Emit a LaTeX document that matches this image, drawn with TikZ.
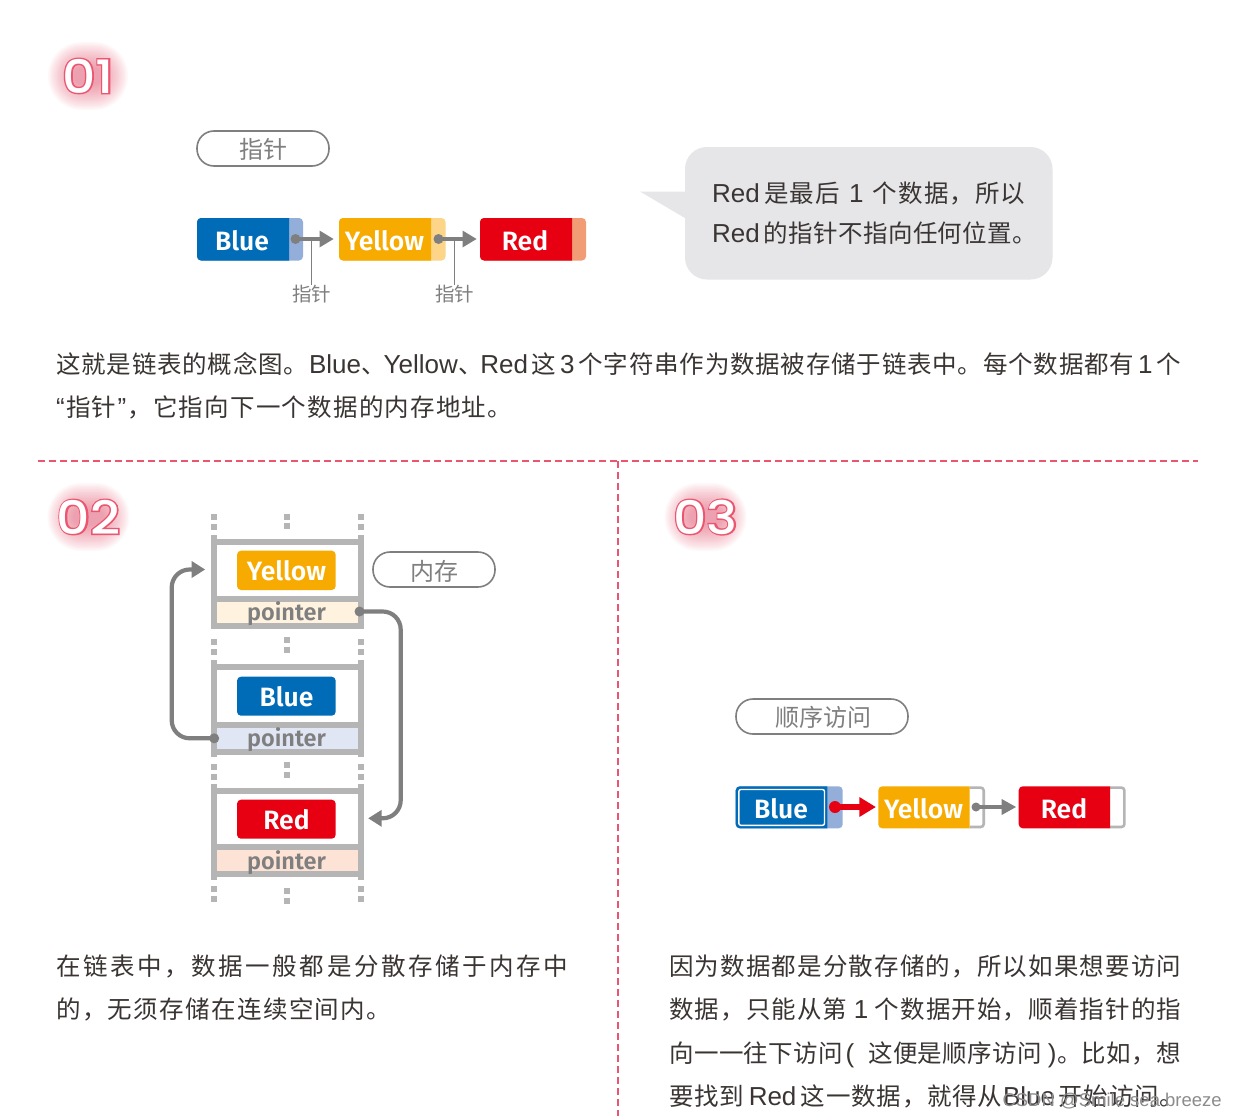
\documentclass[tikz,border=0pt]{standalone}
\usepackage{graphicx}
\usepackage{fontspec}
\usetikzlibrary{arrows.meta}
\setmainfont{Noto Sans CJK SC}
\newfontfamily\latn{Liberation Sans}
\newfontfamily\boxf{Fira Sans}[UprightFont=* SemiBold]
\newfontfamily\numA{Poppins}[UprightFont=* Medium,FakeBold=6]
\newfontfamily\numB{Poppins}[UprightFont=* Medium]
\definecolor{cblue}{HTML}{006CB8}
\definecolor{cblueL}{HTML}{93AED9}
\definecolor{cyel}{HTML}{F7AB00}
\definecolor{cyelL}{HTML}{FCD588}
\definecolor{cred}{HTML}{E60012}
\definecolor{credL}{HTML}{F29C76}
\definecolor{gr}{HTML}{7F7F7F}
\definecolor{grL}{HTML}{B5B5B6}
\definecolor{pk}{HTML}{EA5670}
\definecolor{ink}{HTML}{3A3533}
\definecolor{bub}{HTML}{E6E6E9}
\definecolor{pY}{HTML}{FFF3E0}
\definecolor{pB}{HTML}{E0E6F4}
\definecolor{pR}{HTML}{FDE3D6}
\newcommand{\LL}[1]{{\latn\fontsize{26}{26}\selectfont #1}}
\newcommand{\NN}[2][21pt]{\makebox[#1]{\LL{#2}}}
\def\sprd#1{\ifx\sprstop#1\else #1\hskip 0pt plus 1fil\expandafter\sprd\fi}
\newcommand{\jl}[2]{\makebox[#1][s]{\sprd#2\sprstop\unskip}}
\tikzset{
 x=1pt,y=-1pt,
 pill/.style={draw=gr,line width=1.6pt,fill=white,rounded corners=17pt},
 lab/.style={inner sep=0pt,anchor=base,text=white,font=\boxf\fontsize{26.5}{26.5}\selectfont},
 ptr/.style={inner sep=0pt,anchor=base,text=gr,font=\boxf\fontsize{23.5}{23.5}\selectfont},
 gray text/.style={inner sep=0pt,text=gr,font=\fontsize{24}{24}\selectfont},
 small gray/.style={inner sep=0pt,text=gr,font=\fontsize{19.5}{19.5}\selectfont},
 body/.style={inner sep=0pt,anchor=base west,text=ink,font=\fontsize{24.5}{24.5}\selectfont},
 rail/.style={fill=grL,draw=none},
 sep/.style={draw=pk,line width=1.6pt,dash pattern=on 7pt off 4pt},
 conn/.style={draw=gr,line width=4pt},
 dot/.style={circle,fill=gr,inner sep=0pt,minimum size=10pt},
}
% number with glow: centre x,y, half width, text
\newcommand{\numlabel}[4]{%
 \foreach \m in {14,12.5,...,-12} {
  \fill[pk,opacity=.04,rounded corners={(\m+19.9)*1pt}] (#1-#3-\m,#2-20-\m) rectangle (#1+#3+\m,#2+20+\m);
 }
 \node[inner sep=0pt,text=pk] at (#1,#2) {\scalebox{1.13}[1]{\fontsize{46}{46}\numA #4}};
 \node[inner sep=0pt,text=white] at (#1,#2) {\scalebox{1.13}[1]{\fontsize{46}{46}\numB #4}};
}
\newcommand{\mainpart}[6]{% x0,y0,split,x2,y1,main
 \begin{scope}
  \clip (#1-1,#2-1) rectangle (#3,#5+1);
  \fill[#6,rounded corners=4pt] (#1,#2) rectangle (#4,#5);
 \end{scope}
}
% linked item: x0,y0,split,x2,y1,main,light
\newcommand{\linkbox}[7]{%
 \fill[#7,rounded corners=4pt] (#1,#2) rectangle (#4,#5);
 \mainpart{#1}{#2}{#3}{#4}{#5}{#6}
}
\newcommand{\openbox}[6]{% x0,y0,split,x2,y1,main : gray outlined white end
 \draw[grL,line width=2.6pt,rounded corners=3pt] (#3,#2+1.3) -- (#4-1.3,#2+1.3) -- (#4-1.3,#5-1.3) -- (#3,#5-1.3);
 \mainpart{#1}{#2}{#3}{#4}{#5}{#6}
}
\newcommand{\cell}[6]{%
 \fill[#6] (217,#3+5.5) rectangle (358,#4);
 \fill[rail] (211.2,#1) rectangle (217,#5);
 \fill[rail] (358,#1) rectangle (363.8,#5);
 \fill[rail] (217,#2) rectangle (358,#2+5.5);
 \fill[rail] (217,#3) rectangle (358,#3+5.5);
 \fill[rail] (217,#4) rectangle (358,#4+5.5);
}
\newcommand{\vdotsq}[2]{%
 \fill[grL] (211.2,#1) rectangle (217,#1+6);
 \fill[grL] (211.2,#1+10) rectangle (217,#1+16);
 \fill[grL] (358,#1) rectangle (363.8,#1+6);
 \fill[grL] (358,#1+10) rectangle (363.8,#1+16);
 \fill[grL] (284,#2) rectangle (290,#2+6);
 \fill[grL] (284,#2+9.5) rectangle (290,#2+15.5);
}
\begin{document}
\begin{tikzpicture}
\useasboundingbox (0,0) rectangle (1236,1116);
\fill[white] (0,0) rectangle (1236,1116);

% ---------- 01
\numlabel{88}{76}{26}{01}
\draw[pill] (197,131) rectangle (329,166);
\node[gray text] (p1) at (263,149.5) {指针};

\linkbox{197}{218}{289}{303}{260.5}{cblue}{cblueL}
\node[lab] (b1) at (242,250.5) {Blue};
\linkbox{339}{218}{431}{445.5}{260.5}{cyel}{cyelL}
\node[lab] (y1) at (384.5,250.5) {Yellow};
\linkbox{480}{218}{572}{586}{260.5}{cred}{credL}
\node[lab] (r1) at (525,250.5) {Red};

\node[dot] (d1) at (295.5,239) {};
\coordinate (t1) at (333.5,239);
\draw[conn] (d1.center) -- (320,239);
\fill[gr] (t1) -- (319.5,230.5) -- (319.5,247.5) -- cycle;
\node[dot] (d2) at (438.5,239) {};
\coordinate (t2) at (476.5,239);
\draw[conn] (d2.center) -- (463,239);
\fill[gr] (t2) -- (462.5,230.5) -- (462.5,247.5) -- cycle;

\node[small gray] (c1) at (311.5,294) {指针};
\node[small gray] (c2) at (454.5,294) {指针};
\draw[gr,line width=.9pt] (311.5,239) -- (c1.north);
\draw[gr,line width=.9pt] (454.5,239) -- (c2.north);

\fill[bub,rounded corners=22pt] (685,147) rectangle (1052.5,279.5);
\fill[bub] (640,191.5) -- (690,191.5) -- (690,221) -- cycle;
\node[body] at (712,202) {\jl{313pt}{{\makebox[51pt][l]{\LL{Red}}}是最后{\NN[31pt]{1}}个数据，所以}};
\node[body] at (712,242) {\jl{325pt}{{\makebox[51pt][l]{\LL{Red}}}的指针不指向任何位置。}};

\node[body] at (56,373) {\jl{1125pt}{这就是链表的概念图。{\LL{Blue}}{\makebox[21pt][l]{、}}{\LL{Yellow}}{\makebox[21pt][l]{、}}{\LL{Red}}{\hspace{2pt}}这{\NN{3}}个字符串作为数据被存储于链表中。每个数据都有{\NN{1}}个}};
\node[body] at (56,416) {\jl{456pt}{{\LL{“}}指针{\LL{”}}，它指向下一个数据的内存地址。}};

% ---------- separators
\draw[sep] (38,461) -- (1198,461);
\draw[sep] (618,461) -- (618,1116);

% ---------- 02
\numlabel{88.5}{517}{27}{02}
\vdotsq{514}{513.5}
\cell{535}{539}{596}{623.3}{629}{pY}
\vdotsq{639}{637}
\cell{660}{664}{722}{749.3}{757}{pB}
\vdotsq{764}{762}
\cell{784}{788.3}{844.3}{871}{879.5}{pR}
\vdotsq{886}{888}

\fill[cyel,rounded corners=4pt] (237,550.7) rectangle (335.7,590);
\node[lab] (y2) at (286.5,580.5) {Yellow};
\fill[cblue,rounded corners=4pt] (237,676.7) rectangle (335.7,715.7);
\node[lab] (b2) at (286.5,706.5) {Blue};
\fill[cred,rounded corners=4pt] (237,799.7) rectangle (335.7,838.7);
\node[lab] (r2) at (286.5,829.5) {Red};
\node[ptr] (p21) at (286.5,620.5) {pointer};
\node[ptr] (p22) at (286.5,746.7) {pointer};
\node[ptr] (p23) at (286.5,869.5) {pointer};

\draw[pill] (373,552) rectangle (495,587);
\node[gray text] (p2) at (434,571) {内存};

\node[dot] (d3) at (214.2,738.3) {};
\coordinate (t3) at (205,569.5);
\draw[gr,line width=4.2pt,rounded corners=18pt] (d3.center) -- (171.7,738.3) -- (171.7,569.5) -- (193,569.5);
\fill[gr] (t3) -- (191.7,561) -- (191.7,578) -- cycle;
\node[dot] (d4) at (359.5,611.5) {};
\coordinate (t4) at (368.3,818.3);
\draw[gr,line width=4.2pt,rounded corners=18pt] (d4.center) -- (400.7,611.5) -- (400.7,818.3) -- (380,818.3);
\fill[gr] (t4) -- (381.7,809.8) -- (381.7,826.8) -- cycle;

\node[body] at (56,975) {\jl{512pt}{在链表中，数据一般都是分散存储于内存中}};
\node[body] at (56,1018) {\jl{335pt}{的，无须存储在连续空间内。}};

% ---------- 03
\numlabel{705.5}{517}{27}{03}
\draw[pill] (736,699) rectangle (908,734);
\node[gray text] (p3) at (823,717) {顺序访问};

\linkbox{735.7}{786.3}{827.3}{842.7}{828.3}{cblue}{cblueL}
\draw[white,line width=1.4pt,rounded corners=2pt] (738.8,789.5) rectangle (824.5,825.3);
\node[lab] (b3) at (781,818.5) {Blue};
\openbox{878.3}{786.3}{969.7}{985}{828.3}{cyel}
\node[lab] (y3) at (923.5,818.5) {Yellow};
\openbox{1018.7}{786.3}{1110}{1125.7}{828.3}{cred}
\node[lab] (r3) at (1064,818.5) {Red};

\node[circle,fill=cred,inner sep=0pt,minimum size=12pt] (d5) at (835,807) {};
\coordinate (t5) at (875.7,807);
\draw[cred,line width=5.5pt] (d5.center) -- (860,807);
\fill[cred] (t5) -- (859.3,797) -- (859.3,817) -- cycle;
\node[dot,minimum size=9pt] (d6) at (976,807) {};
\coordinate (t6) at (1016,807);
\draw[gr,line width=3.6pt] (d6.center) -- (1002,807);
\fill[gr] (t6) -- (1001.7,799) -- (1001.7,815) -- cycle;

\node[body] at (669,975) {\jl{512pt}{因为数据都是分散存储的，所以如果想要访问}};
\node[body] at (669,1018) {\jl{512pt}{数据，只能从第{\NN[25pt]{1}}个数据开始，顺着指针的指}};
\node[body] at (669,1062) {\jl{512pt}{向一一往下访问{\makebox[24pt][l]{\hspace{2pt}\LL{(}}}这便是顺序访问{\makebox[14pt][r]{\LL{)}}}。比如，想}};
\node[body] at (669,1105) {\jl{515pt}{要找到{\hspace{3pt}}{\LL{Red}}{\hspace{3pt}}这一数据，就得从{\LL{Blue}}{\hspace{2pt}}开始访问。}};

\node[inner sep=0pt,anchor=base east,text=black!45,font=\latn\fontsize{18.5}{18.5}\selectfont] at (1222,1106) {CSDN @Smile sea breeze};
\end{tikzpicture}
\end{document}
